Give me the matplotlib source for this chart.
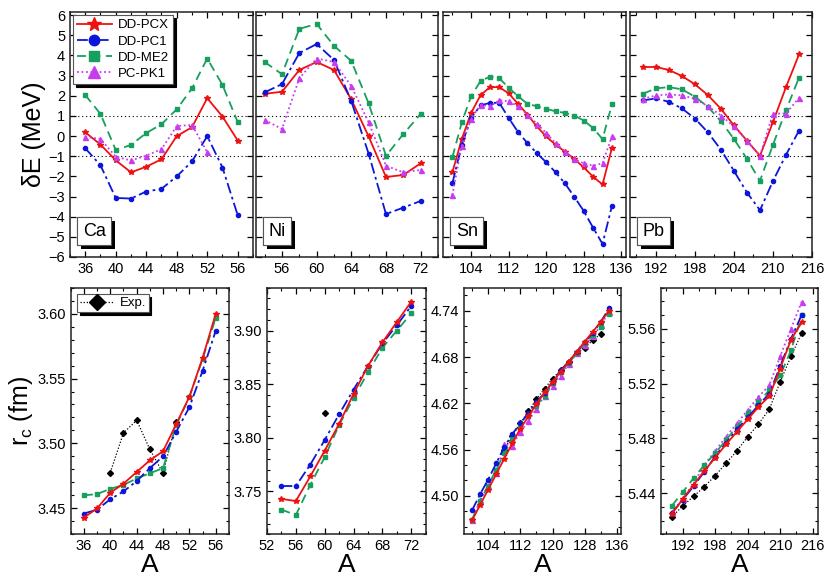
import numpy as np
import matplotlib
matplotlib.use("Agg")
import matplotlib.pyplot as plt
from matplotlib.ticker import MultipleLocator, FixedLocator
import matplotlib.patheffects as pe

plt.rcParams['font.family'] = ['Liberation Sans', 'DejaVu Sans']
plt.rcParams['mathtext.fontset'] = 'custom'
plt.rcParams['mathtext.rm'] = 'Liberation Sans'

# ---------------- data: top row, dE (MeV) ----------------
ca_A = [36, 38, 40, 42, 44, 46, 48, 50, 52, 54, 56]
ca_pcx = [0.19, -0.42, -1.2, -1.8, -1.52, -1.15, 0.0, 0.44, 1.88, 0.97, -0.22]
ca_pc1 = [-0.6, -1.45, -3.07, -3.1, -2.75, -2.62, -2.0, -1.26, 0.0, -1.56, -3.93]
ca_me2 = [2.04, 1.1, -0.69, -0.44, 0.15, 0.59, 1.33, 2.37, 3.85, 2.54, 0.69]
ca_pk1_A = [36, 38, 40, 42, 44, 46, 48, 50, 52]
ca_pk1 = [-0.04, -0.14, -1.02, -1.21, -0.97, -0.65, 0.5, 0.55, -0.8]

ni_A = [54, 56, 58, 60, 62, 64, 66, 68, 70, 72]
ni_pcx = [2.1, 2.2, 3.28, 3.68, 3.28, 1.82, -0.02, -2.03, -1.93, -1.35]
ni_pc1 = [2.17, 2.58, 4.12, 4.57, 3.78, 1.73, -0.88, -3.87, -3.55, -3.22]
ni_me2 = [3.68, 3.07, 5.32, 5.57, 4.48, 3.73, 1.62, -0.98, 0.1, 1.1]
ni_pk1 = [0.8, 0.35, 2.87, 3.85, 3.68, 2.48, 0.68, -1.47, -1.8, -1.68]

sn_A = [100, 102, 104, 106, 108, 110, 112, 114, 116, 118, 120, 122, 124, 126, 128, 130, 132, 134]
sn_pcx = [-1.8, -0.15, 1.15, 2.03, 2.43, 2.43, 2.12, 1.6, 1.07, 0.48, -0.02, -0.43, -0.77, -1.15, -1.55, -2.02, -2.4, -0.6]
sn_pc1 = [-2.35, -0.43, 0.9, 1.52, 1.65, 1.65, 0.9, 0.2, -0.35, -0.85, -1.3, -1.8, -2.35, -3.02, -3.72, -4.55, -5.35, -3.47]
sn_me2 = [-1.05, 0.68, 1.98, 2.73, 2.95, 2.87, 2.4, 1.98, 1.6, 1.48, 1.35, 1.23, 1.15, 1.02, 0.77, 0.4, -0.15, 1.57]
sn_pk1 = [-2.93, -0.47, 0.87, 1.55, 1.48, 1.78, 1.73, 1.48, 1.07, 0.62, 0.15, -0.35, -0.77, -1.15, -1.35, -1.47, -1.35, -0.02]

pb_A = [190, 192, 194, 196, 198, 200, 202, 204, 206, 208, 210, 212, 214]
pb_pcx = [3.43, 3.43, 3.28, 2.98, 2.57, 2.03, 1.35, 0.53, -0.23, -0.98, 0.7, 2.43, 4.05]
pb_pc1 = [1.77, 1.87, 1.7, 1.37, 0.87, 0.18, -0.68, -1.73, -2.8, -3.68, -2.23, -0.93, 0.27]
pb_me2 = [2.1, 2.37, 2.43, 2.32, 1.95, 1.45, 0.73, -0.15, -1.13, -2.22, -0.43, 1.28, 2.9]
pb_pk1 = [1.85, 2.02, 2.07, 2.02, 1.85, 1.48, 1.02, 0.48, -0.23, -0.98, 1.12, 1.12, 1.9]

# ---------------- data: bottom row, r_c (fm) ----------------
ca_rc_pcx = [3.4428, 3.450, 3.462, 3.469, 3.478, 3.487, 3.494, 3.515, 3.536, 3.566, 3.600]
ca_rc_pc1 = [3.446, 3.449, 3.457, 3.463, 3.471, 3.481, 3.490, 3.509, 3.528, 3.556, 3.587]
ca_rc_me2 = [3.460, 3.461, 3.465, 3.468, 3.473, 3.477, 3.481, 3.514, 3.536, 3.565, 3.597]
ca_exp_A = [40, 42, 44, 46, 48, 50]
ca_exp = [3.4776, 3.5081, 3.5179, 3.4954, 3.4771, 3.5166]

ni_rc_pcx = [3.743, 3.741, 3.764, 3.788, 3.813, 3.841, 3.867, 3.889, 3.908, 3.927]
ni_rc_pc1 = [3.755, 3.755, 3.775, 3.798, 3.822, 3.845, 3.867, 3.888, 3.905, 3.923]
ni_rc_me2 = [3.733, 3.728, 3.756, 3.782, 3.812, 3.837, 3.861, 3.884, 3.900, 3.916]
ni_exp_A = [60]
ni_exp = [3.823]

sn_rc_pcx = [4.468, 4.488, 4.508, 4.528, 4.548, 4.568, 4.587, 4.603, 4.619, 4.634, 4.648, 4.661, 4.674, 4.687, 4.700, 4.713, 4.726, 4.740]
sn_rc_pc1 = [4.481, 4.502, 4.521, 4.542, 4.563, 4.580, 4.594, 4.607, 4.622, 4.633, 4.648, 4.663, 4.674, 4.687, 4.700, 4.711, 4.726, 4.743]
sn_rc_me2 = [4.469, 4.493, 4.513, 4.534, 4.555, 4.574, 4.590, 4.603, 4.617, 4.630, 4.646, 4.661, 4.672, 4.685, 4.698, 4.708, 4.719, 4.736]
sn_rc_pk1 = [4.468, 4.494, 4.513, 4.529, 4.567, 4.565, 4.583, 4.597, 4.613, 4.630, 4.643, 4.656, 4.671, 4.685, 4.695, 4.707, 4.721, 4.739]
sn_exp_A = [108, 110, 112, 114, 116, 118, 120, 122, 124, 126, 128, 130, 132]
sn_exp = [4.560, 4.578, 4.594, 4.610, 4.625, 4.639, 4.652, 4.663, 4.674, 4.685, 4.692, 4.702, 4.710]

pb_rc_pcx = [5.425, 5.4356, 5.446, 5.4562, 5.466, 5.4756, 5.4848, 5.4938, 5.503, 5.5108, 5.531, 5.552, 5.5648]
pb_rc_pc1 = [5.4255, 5.4352, 5.445, 5.4557, 5.4667, 5.4768, 5.4865, 5.4953, 5.5042, 5.5127, 5.5326, 5.5527, 5.5704]
pb_rc_me2 = [5.4308, 5.4407, 5.4509, 5.4606, 5.4691, 5.4788, 5.4885, 5.4982, 5.5067, 5.5151, 5.526, 5.5442, 5.5697]
pb_rc_pk1 = [5.426, 5.436, 5.447, 5.4606, 5.4708, 5.4812, 5.4909, 5.5006, 5.5103, 5.5188, 5.5399, 5.560, 5.5799]
pb_exp = [5.4225, 5.4308, 5.4376, 5.4448, 5.4528, 5.4618, 5.4708, 5.4812, 5.4904, 5.5013, 5.5212, 5.5399, 5.5571]

# ---------------- styles ----------------
RED = '#ee1111'
BLUE = '#0b16d8'
GREEN = '#17a05d'
MAG = '#c83cf0'
styles = {
    'DD-PCX': dict(color=RED, ls='-', marker='*', ms=4.0, lw=1.3),
    'DD-PC1': dict(color=BLUE, ls=(0, (6, 2, 1.5, 2)), marker='o', ms=3.0, lw=1.3),
    'DD-ME2': dict(color=GREEN, ls=(0, (5, 3)), marker='s', ms=3.0, lw=1.3),
    'PC-PK1': dict(color=MAG, ls=(0, (1, 1.5)), marker='^', ms=3.6, lw=1.3),
}
exp_style = dict(color='black', ls=(0, (1, 1.5)), marker='D', ms=3.0, lw=0.9)

fig = plt.figure(figsize=(8.30, 5.87), dpi=100)

top_rects = [(0.0843, 0.5622, 0.2205, 0.4174),
             (0.3084, 0.5622, 0.2193, 0.4174),
             (0.5337, 0.5622, 0.2205, 0.4174),
             (0.7590, 0.5622, 0.2193, 0.4174)]
bot_rects = [(0.0852, 0.0898, 0.1907, 0.4201),
             (0.3217, 0.0898, 0.1912, 0.4201),
             (0.5590, 0.0898, 0.1892, 0.4201),
             (0.7964, 0.0898, 0.1892, 0.4201)]


def style_axes(ax, fs=10.5):
    for s in ax.spines.values():
        s.set_linewidth(1.1)
        s.set_color('#222222')
    ax.tick_params(which='both', direction='in', top=True, right=True, labelsize=fs)
    ax.tick_params(which='major', length=4, width=0.9)
    ax.tick_params(which='minor', length=2, width=0.8)


def panel_label(ax, txt):
    t = ax.text(0.07, 0.07, txt, transform=ax.transAxes, fontsize=13,
                ha='left', va='bottom',
                bbox=dict(boxstyle='square,pad=0.3', fc='white', ec='#555555', lw=0.8))
    t.get_bbox_patch().set_path_effects([
        pe.withSimplePatchShadow(offset=(2.5, -2.5), shadow_rgbFace='black', alpha=1.0),
        pe.Normal()])


# ---- top row ----
top_data = [
    (ca_A, ca_pcx, ca_A, ca_pc1, ca_A, ca_me2, ca_pk1_A, ca_pk1, (34, 58), [36, 40, 44, 48, 52, 56], 'Ca'),
    (ni_A, ni_pcx, ni_A, ni_pc1, ni_A, ni_me2, ni_A, ni_pk1, (53, 74), [56, 60, 64, 68, 72], 'Ni'),
    (sn_A, sn_pcx, sn_A, sn_pc1, sn_A, sn_me2, sn_A, sn_pk1, (98, 137), [104, 112, 120, 128, 136], 'Sn'),
    (pb_A, pb_pcx, pb_A, pb_pc1, pb_A, pb_me2, pb_A, pb_pk1, (188, 216), [192, 198, 204, 210, 216], 'Pb'),
]
for i, (r, d) in enumerate(zip(top_rects, top_data)):
    ax = fig.add_axes(r)
    a1, y1, a2, y2, a3, y3, a4, y4, xl, xt, lab = d
    ax.axhline(1, color='black', ls=(0, (1, 2.5)), lw=0.8)
    ax.axhline(-1, color='black', ls=(0, (1, 2.5)), lw=0.8)
    h1, = ax.plot(a1, y1, label='DD-PCX', **styles['DD-PCX'])
    h2, = ax.plot(a2, y2, label='DD-PC1', **styles['DD-PC1'])
    h3, = ax.plot(a3, y3, label='DD-ME2', **styles['DD-ME2'])
    h4, = ax.plot(a4, y4, label='PC-PK1', **styles['PC-PK1'])
    ax.set_xlim(*xl)
    ax.set_ylim(-6, 6.16)
    ax.xaxis.set_major_locator(FixedLocator(xt))
    step = xt[1] - xt[0]
    ax.xaxis.set_minor_locator(MultipleLocator(step / 2))
    ax.yaxis.set_major_locator(MultipleLocator(1))
    style_axes(ax)
    if i == 0:
        ax.set_ylabel('δE (MeV)', fontsize=18, labelpad=2)
        leg = ax.legend(loc='upper left', fontsize=9.5, frameon=True, fancybox=False,
                        edgecolor='#555555', framealpha=1, markerscale=2.5,
                        handlelength=2.6, borderaxespad=0.25, labelspacing=0.3,
                        handletextpad=0.5, borderpad=0.3,
                        shadow={'color': 'black', 'alpha': 1.0})
        leg.get_frame().set_linewidth(0.8)
    else:
        ax.tick_params(labelleft=False)
    panel_label(ax, lab)

# ---- bottom row ----
bot_data = [
    (ca_A, ca_rc_pcx, ca_rc_pc1, ca_rc_me2, None, ca_exp_A, ca_exp, (34, 58), (3.43, 3.62),
     [36, 40, 44, 48, 52, 56], 0.05, 0.01, '%.2f'),
    (ni_A, ni_rc_pcx, ni_rc_pc1, ni_rc_me2, None, ni_exp_A, ni_exp, (52, 74), (3.71, 3.94),
     [52, 56, 60, 64, 68, 72], 0.05, 0.01, '%.2f'),
    (sn_A, sn_rc_pcx, sn_rc_pc1, sn_rc_me2, sn_rc_pk1, sn_exp_A, sn_exp, (98, 137), (4.45, 4.77),
     [104, 112, 120, 128, 136], 0.06, 0.02, '%.2f'),
    (pb_A, pb_rc_pcx, pb_rc_pc1, pb_rc_me2, pb_rc_pk1, pb_A, pb_exp, (188, 217), (5.41, 5.59),
     [192, 198, 204, 210, 216], 0.04, 0.01, '%.2f'),
]
for i, (r, d) in enumerate(zip(bot_rects, bot_data)):
    ax = fig.add_axes(r)
    A, ypcx, ypc1, yme2, ypk1, eA, ey, xl, yl, xt, ymaj, ymin, fmt = d
    he, = ax.plot(eA, ey, label='Exp.', **exp_style)
    if ypk1 is not None:
        ax.plot(A, ypk1, **styles['PC-PK1'])
    ax.plot(A, yme2, **styles['DD-ME2'])
    ax.plot(A, ypc1, **styles['DD-PC1'])
    ax.plot(A, ypcx, **styles['DD-PCX'])
    ax.set_xlim(*xl)
    ax.set_ylim(*yl)
    ax.xaxis.set_major_locator(FixedLocator(xt))
    step = xt[1] - xt[0]
    ax.xaxis.set_minor_locator(MultipleLocator(step / 2))
    ax.yaxis.set_major_locator(MultipleLocator(ymaj))
    ax.yaxis.set_minor_locator(MultipleLocator(ymin))
    ax.yaxis.set_major_formatter(plt.FormatStrFormatter(fmt))
    style_axes(ax)
    ax.set_xlabel('A', fontsize=19, labelpad=0)
    if i == 0:
        ax.set_ylabel(r'r$_\mathrm{c}$ (fm)', fontsize=18, labelpad=2)
        leg = ax.legend(handles=[he], loc='upper left', fontsize=9.5, frameon=True,
                        fancybox=False, edgecolor='#555555', framealpha=1,
                        markerscale=2.6, handlelength=2.6, borderaxespad=0.5,
                        handletextpad=0.4, borderpad=0.2,
                        shadow={'color': 'black', 'alpha': 1.0})
        leg.get_frame().set_linewidth(0.8)

fig.savefig('out.png', dpi=100)
